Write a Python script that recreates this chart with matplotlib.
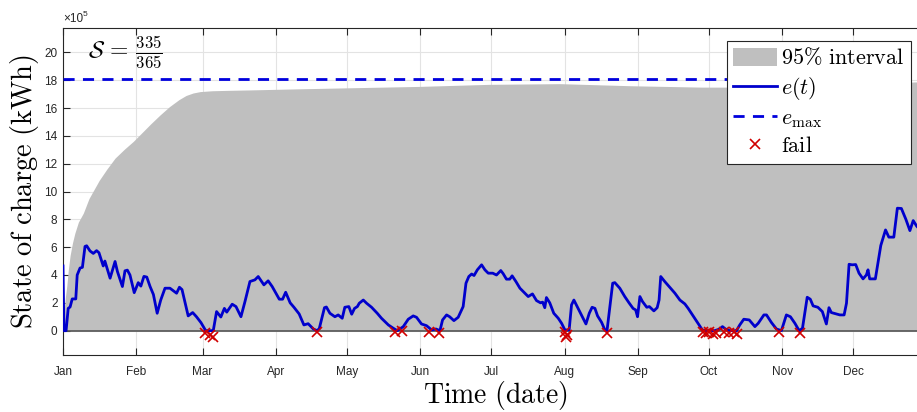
import matplotlib.pyplot as plt

plt.rcParams['mathtext.fontset'] = 'cm'
plt.rcParams['font.family'] = ['Liberation Sans', 'DejaVu Sans']

# state of charge, units of 1e5 kWh, day of year (0 = Jan 1)
soc_days = [0, 0.4, 1.3, 2.2, 3.0, 3.9, 5.4, 6.0, 7.2, 8.2, 9.3, 10.0, 11.4, 12.8, 14.2, 15.2,
            17.0, 17.7, 19.9, 22.0, 23.0, 25.1, 26.2, 27.2, 28.3, 30.1, 31.8, 32.9, 34.2, 35.4,
            36.8, 38.2, 39.8, 41.3, 43.1, 45.2, 48.0, 49.2, 50.3, 52.9, 54.8, 56.4, 58.3, 60.3,
            63.5, 64.9, 66.7, 68.2, 69.2, 71.5, 73.1, 75.2, 76.9, 79.0, 81.1, 82.5, 84.9, 86.7,
            88.4, 91.4, 92.8, 94.1, 96.0, 97.6, 99.8, 101.8, 103.6, 105.8, 107.4, 108.3, 110.5,
            111.3, 112.8, 114.9, 116.3, 118.0, 119.1, 120.8, 122.0, 123.2, 124.4, 125.2, 126.9,
            128.3, 130.4, 132.8, 134.6, 137.5, 139.6, 141.3, 143.8, 145.9, 148.0, 149.4, 151.5,
            153.6, 155.8, 157.6, 159.3, 160.4, 162.1, 163.4, 165.2, 167.0, 169.1, 170.3, 171.5,
            172.7, 173.7, 175.1, 176.9, 178.3, 179.7, 181.6, 183.2, 185.0, 186.0, 187.4, 188.8,
            189.8, 191.4, 193.1, 195.2, 196.6, 198.4, 200.1, 201.8, 202.7, 203.6, 204.3, 205.7,
            207.4, 209.3, 210.7, 212.1, 213.9, 214.9, 215.9, 217.3, 219.1, 221.0, 222.4, 223.6,
            224.8, 225.9, 227.6, 229.0, 229.9, 232.3, 233.2, 235.3, 237.4, 239.2, 240.9, 242.0,
            242.8, 243.8, 244.9, 246.7, 247.8, 249.7, 251.1, 251.9, 252.6, 254.3, 256.4, 258.6,
            260.7, 262.8, 264.2, 266.3, 268.4, 270.2, 271.9, 275.4, 277.3, 278.7, 280.1, 281.8,
            284.6, 286.0, 287.7, 290.0, 292.4, 293.8, 296.2, 297.3, 299.4, 301.5, 303.6, 305.7,
            307.4, 309.3, 311.1, 312.5, 314.5, 315.8, 317.0, 319.0, 320.9, 322.6, 323.7, 324.7,
            326.9, 328.3, 330.1, 331.1, 332.2, 333.5, 335.0, 336.4, 338.1, 339.5, 340.2, 340.9,
            343.3, 345.6, 347.6, 349.0, 351.1, 352.6, 354.3, 356.2, 357.9, 359.3, 360.8, 362.5,
            364.0]
soc_vals = [4.65, 0.0, 0.0, 1.6, 1.7, 2.28, 2.28, 4.0, 4.5, 4.55, 6.05, 6.1, 5.73, 5.55, 5.75, 5.6,
            4.65, 5.0, 3.77, 4.97, 4.25, 3.17, 4.3, 4.35, 4.0, 2.73, 3.45, 3.2, 3.9, 3.85,
            3.17, 2.6, 1.25, 2.2, 3.05, 3.05, 2.69, 3.12, 2.95, 1.06, 1.3, 1.0, 0.58, 0.0,
            0.0, 1.37, 0.98, 1.6, 1.33, 1.9, 1.73, 1.0, 2.09, 3.53, 3.65, 3.89, 3.29, 3.58,
            3.17, 2.26, 2.26, 2.76, 2.0, 1.68, 1.2, 0.41, 0.5, 0.12, 0.0, 0.15, 1.65,
            1.7, 1.25, 1.0, 1.13, 0.89, 1.68, 1.73, 1.18, 1.6, 1.73, 1.97, 2.2,
            1.97, 1.68, 1.25, 0.89, 0.41, 0.17, 0.0, 0.29, 0.82, 1.06, 0.96, 0.48,
            0.36, 0.05, 0.12, 0.0, 0.77, 1.13, 1.0, 0.72, 0.96, 1.73, 3.41, 3.89,
            4.07, 3.96, 4.37, 4.73, 4.37, 4.13, 4.13, 4.0, 4.32, 4.1, 3.7, 3.7,
            3.94, 3.53, 3.05, 2.69, 2.45, 2.64, 2.16, 2.0, 2.05, 1.65, 2.38, 2.0,
            1.25, 0.89, 0.53, 0.05, 0.05, 1.85, 2.2, 1.73, 1.13, 0.48, 1.25, 1.68,
            1.6, 1.06, 0.6, 0.05, 0.0, 3.41, 3.45, 3.05, 2.45, 2.0, 1.6, 1.49,
            1.0, 2.45, 2.09, 1.68, 1.73, 1.42, 1.65, 2.2, 3.89, 3.53, 3.12, 2.69,
            2.2, 1.92, 1.6, 1.06, 0.53, 0.05, 0.0, 0.0, 0.1, 0.29, 0.1, 0.0,
            0.0, 0.41, 0.82, 0.77, 0.29, 0.53, 1.13, 1.13, 0.58, 0.12, 0.0, 1.13,
            1.0, 0.53, 0.0, 0.17, 2.4, 2.26, 1.78, 1.68, 1.37, 0.48, 1.65, 1.3,
            1.2, 1.13, 1.13, 1.97, 4.77, 4.73, 4.75, 4.13, 3.72, 4.0, 4.37, 3.72,
            3.72, 6.12, 7.24, 6.72, 6.72, 8.8, 8.78, 8.0, 7.19, 7.91, 7.5, 7.2,
            7.4]

# upper bound of the 95% interval (lower bound is 0)
band_days = [0, 0.5, 1.0, 1.6, 2.2, 3.0, 4.0, 5.0, 6.5, 8.6, 11.0, 15.3, 18.5, 22.0, 26.0,
             29.7, 33.5, 37.0, 41.0, 45.0, 49.0, 52.0, 55.0, 58.0, 63.0, 70.0, 79.0, 100.0,
             120.0, 150.0, 180.0, 210.0, 240.0, 270.0, 300.0, 330.0, 365.0]
band_upper = [0, 1.5, 2.4, 3.2, 4.3, 5.4, 6.3, 7.0, 7.8, 8.45, 9.5, 10.8, 11.6, 12.4, 13.05,
              13.6, 14.25, 14.85, 15.5, 16.1, 16.6, 16.9, 17.08, 17.18, 17.24, 17.27, 17.3, 17.38,
              17.45, 17.55, 17.7, 17.75, 17.6, 17.5, 17.5, 17.7, 17.9]

e_max = 18.1

fail_days = [60.0, 62.1, 63.6, 107.2, 140.3, 143.1, 154.8, 159.0, 212.1, 213.0, 212.6, 229.7,
             270.5, 271.8, 273.2, 274.5, 276.0, 279.5, 281.5, 283.5, 285.0, 302.5, 311.3]
fail_vals = [-0.2, -0.31, -0.43, -0.12, -0.07, -0.05, -0.07, -0.15, -0.12, -0.3, -0.45, -0.19,
             -0.12, -0.2, -0.1, -0.25, -0.15, -0.1, -0.2, -0.12, -0.25, -0.12, -0.19]

month_days = [0, 31, 59, 90, 120, 151, 181, 212, 243, 273, 304, 334]
month_labels = ['Jan', 'Feb', 'Mar', 'Apr', 'May', 'Jun', 'Jul', 'Aug', 'Sep', 'Oct', 'Nov', 'Dec']

fig = plt.figure(figsize=(9.17, 4.12), dpi=100)
ax = fig.add_axes([63 / 917, 1 - 355 / 412, 863.7 / 917, 327 / 412])

ax.fill_between(band_days, 0, band_upper, color='#BFBFBF', lw=0, label=r'$\mathrm{95\%\ interval}$', zorder=1)
ax.axhline(0, color='#555555', lw=1.2, zorder=2)
ax.plot(soc_days, soc_vals, color='#0000CC', lw=2, label=r'$e(t)$', zorder=3)
ax.axhline(e_max, color='#0000DD', lw=2, ls=(0, (4, 3)), label=r'$e_{\max}$', zorder=3)
ax.plot(fail_days, fail_vals, 'x', color='#D00000', ms=7.5, mew=1.2, label=r'$\mathrm{fail}$', zorder=4)

ax.set_xlim(0, 365)
ax.set_ylim(-1.75, 21.75)
ax.set_xticks(month_days)
ax.set_xticklabels(month_labels)
ax.set_yticks(range(0, 21, 2))

ax.grid(True, color='#E3E3E3', lw=0.8)
ax.set_axisbelow(True)
ax.tick_params(direction='in', top=True, right=True, length=5, width=0.8,
               colors='#262626', labelsize=8.5)
ax.tick_params(axis='x', pad=8)
ax.tick_params(axis='y', pad=4)
for s in ax.spines.values():
    s.set_color('#262626')
    s.set_linewidth(0.8)

ax.set_xlabel(r'$\mathrm{Time\ (date)}$', fontsize=20)
ax.xaxis.set_label_coords(0.5, -0.072)
ax.set_ylabel(r'$\mathrm{State\ of\ charge\ (kWh)}$', fontsize=20.5)
ax.yaxis.set_label_coords(-0.025, 0.5)

ax.text(0.029, 0.925, r'$\mathcal{S}\,=\,\frac{335}{365}$', transform=ax.transAxes,
        fontsize=17, va='center', ha='left')
fig.text(63 / 917, 1 - 19 / 412, u'\u00d710', fontsize=8.5, color='#262626', va='center', ha='left')
fig.text(83 / 917, 1 - 14 / 412, '5', fontsize=6, color='#262626', va='center', ha='left')

leg = ax.legend(loc='upper right', bbox_to_anchor=(0.982, 0.960), borderaxespad=0,
                fontsize=16, fancybox=False, edgecolor='#262626', framealpha=1,
                handlelength=1.95, handleheight=0.85, handletextpad=0.2,
                labelspacing=0.25, borderpad=0.3, numpoints=1)
leg.get_frame().set_linewidth(0.8)

plt.savefig('out.png', dpi=100)
